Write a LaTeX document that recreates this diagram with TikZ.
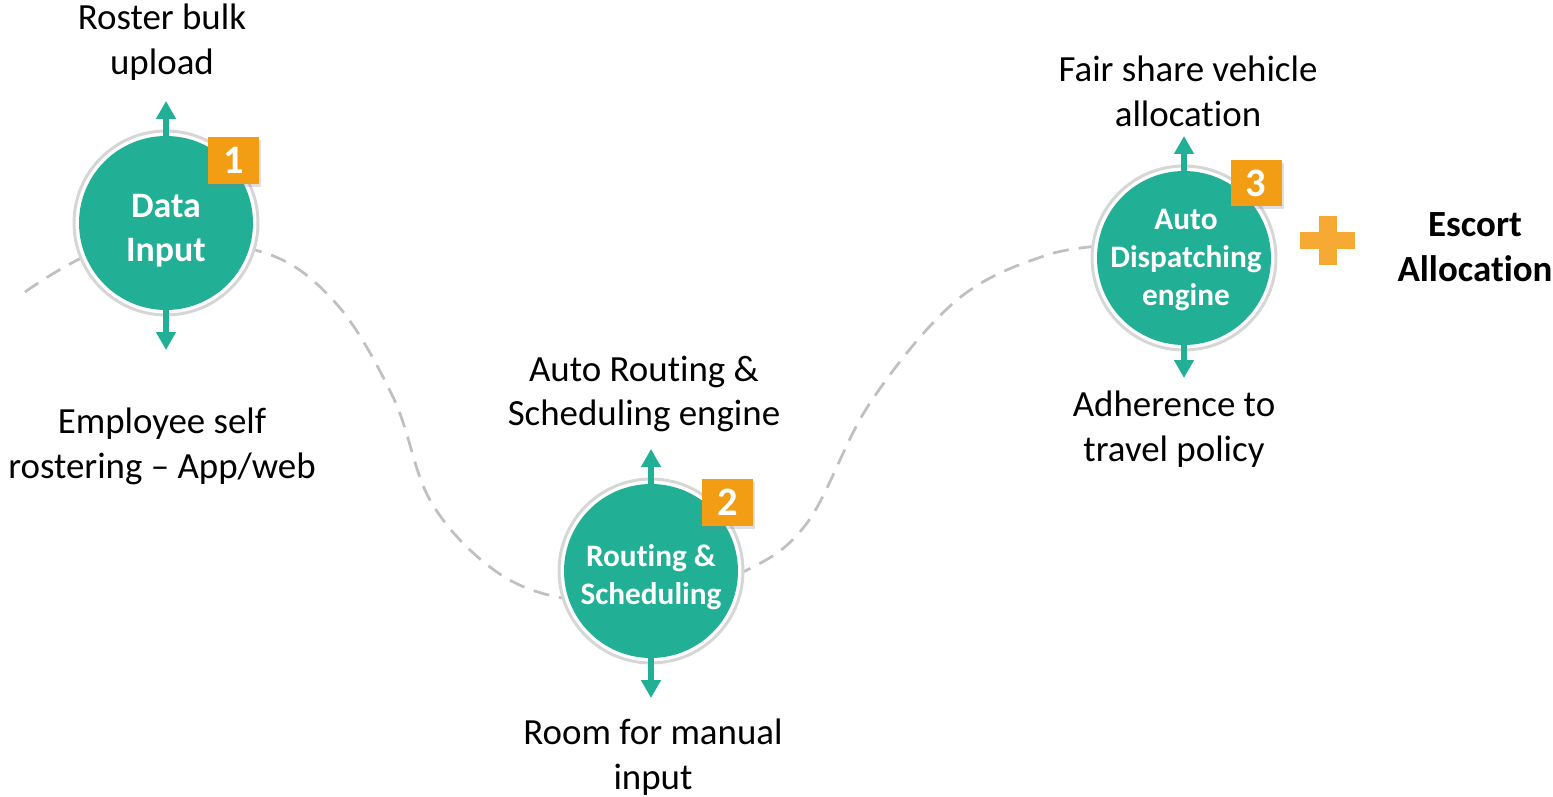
\documentclass[tikz,border=0pt]{standalone}
\usepackage{fontspec}
\setmainfont{Carlito}[Ligatures={TeX,NoCommon}]
\usetikzlibrary{arrows.meta,shadows}
\definecolor{hubteal}{RGB}{33,175,150}
\definecolor{ringgray}{RGB}{214,214,214}
\definecolor{trailgray}{RGB}{192,192,192}
\definecolor{badgeorange}{RGB}{243,157,20}
\definecolor{plusorange}{RGB}{246,170,52}
\tikzset{
  hubring/.style={circle,draw=ringgray,line width=0.06cm,fill=white,minimum size=3.68cm,inner sep=0pt},
  hubdisc/.style={circle,fill=hubteal,minimum size=3.48cm,inner sep=0pt},
  spoke/.style={draw=hubteal,line width=0.11cm,-{Triangle[length=0.36cm,width=0.38cm]}},
  trail/.style={trailgray,line width=0.055cm,dash pattern=on 0.32cm off 0.2cm},
  badgebox/.style={fill=badgeorange,text=white,minimum width=1.02cm,minimum height=0.94cm,inner sep=0pt,
    font=\bfseries\fontsize{23}{23}\selectfont,drop shadow={shadow xshift=0.04cm,shadow yshift=-0.06cm,opacity=0.25}},
  plusbar/.style={fill=plusorange,inner sep=0pt},
  lbl/.style={align=center,font=\fontsize{21}{25.5}\selectfont},
  lblbold/.style={align=center,font=\bfseries\fontsize{21}{25.5}\selectfont},
  hubbig/.style={align=center,text=white,font=\bfseries\fontsize{20.4}{25}\selectfont},
  hubsmall/.style={align=center,text=white,font=\bfseries\fontsize{17.8}{21.6}\selectfont}
}
\newcommand{\hub}[3]{\node[hubring] (#1ring) at (#2,#3) {}; \node[hubdisc] (#1) at (#2,#3) {};}
\newcommand{\spokes}[4]{\coordinate (#1up) at (#2,#3-122); \coordinate (#1down) at (#2,#3+#4);
  \draw[spoke] (#1) -- (#1up); \draw[spoke] (#1) -- (#1down);}
\begin{document}
\begin{tikzpicture}[x=0.02cm,y=-0.02cm]
  \useasboundingbox (0,0) rectangle (1553,797);
  % dashed trail behind the hubs
  \draw[trail] plot[smooth,tension=0.6] coordinates {(25,292) (120,244) (255,250) (333,300) (393,397)
    (430,500) (490,567) (557,597) (650,602) (743,572) (807,523) (870,403) (957,300) (1047,255) (1120,245)};
  % hubs
  \hub{n1}{166}{223} \hub{n2}{651}{571} \hub{n3}{1184}{258}
  \spokes{n1}{166}{223}{127} \spokes{n2}{651}{571}{127} \spokes{n3}{1184}{258}{120}
  \node[hubbig] (n1txt) at (166,231) {Data\\Input};
  \node[hubsmall] (n2txt) at (651,577) {Routing \&\\Scheduling};
  \node[hubsmall] (n3txt) at (1186,260) {Auto\\Dispatching\\engine};
  % number badges
  \node[badgebox] (b1) at (233.5,160.5) {1};
  \node[badgebox] (b2) at (727.5,502.5) {2};
  \node[badgebox] (b3) at (1256,183) {3};
  % labels
  \node[lbl] (roster) at (162,42) {Roster bulk\\upload};
  \node[lbl] (selfroster) at (162,446) {Employee self\\rostering – App/web};
  \node[lbl] (autoroute) at (644,394) {Auto Routing \&\\Scheduling engine};
  \node[lbl] (manual) at (653,757) {Room for manual\\input};
  \node[lbl] (fairshare) at (1188,91) {Fair share vehicle\\allocation};
  \node[lbl] (policy) at (1174,429) {Adherence to\\travel policy};
  % plus and escort
  \node[plusbar,minimum width=1.1cm,minimum height=0.36cm] (plush) at (1327.5,240.5) {};
  \node[plusbar,minimum width=0.36cm,minimum height=0.98cm] (plusv) at (1327.5,240.5) {};
  \node[lblbold] (escort) at (1475,247) {Escort\\Allocation};
\end{tikzpicture}
\end{document}
